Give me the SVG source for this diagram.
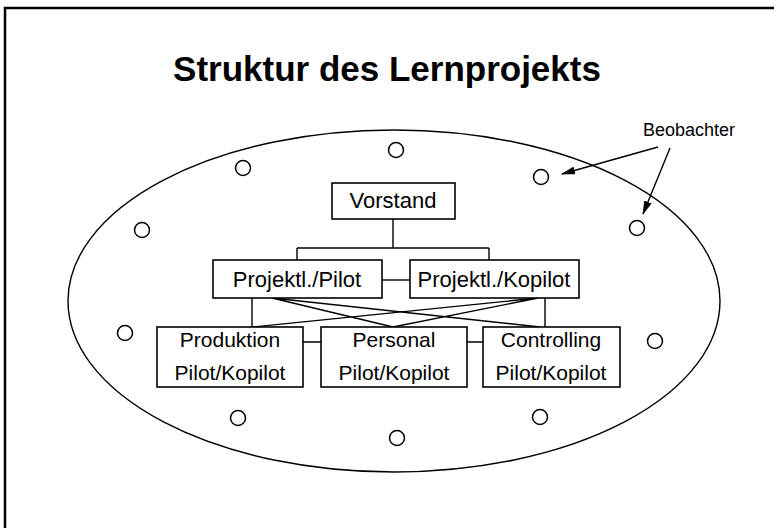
<svg xmlns="http://www.w3.org/2000/svg" width="774" height="528" viewBox="0 0 774 528">
<style>
text{font-family:"Liberation Sans",Arial,sans-serif;fill:#000}
.box{fill:#fff;stroke:#000;stroke-width:1.6}
.lbl{font-size:22px;text-anchor:middle}
.lbl2{font-size:21px;text-anchor:middle}
.c{fill:none;stroke:#000;stroke-width:1.5}
.ln{fill:none;stroke:#000;stroke-width:1.4}
</style>
<defs>
<marker id="ah" viewBox="0 0 14 8" refX="13" refY="4" markerWidth="14" markerHeight="8" markerUnits="userSpaceOnUse" orient="auto"><path d="M0,0L14,4L0,8z" fill="#000"/></marker>
</defs>
<rect width="774" height="528" fill="#fff"/>
<path d="M5,528V8H774" fill="none" stroke="#000" stroke-width="2.5"/>
<text x="387" y="81" font-size="35" font-weight="bold" text-anchor="middle">Struktur des Lernprojekts</text>
<ellipse cx="394" cy="301" rx="326" ry="171" class="ln"/>
<g id="beobachter">
<text x="689" y="136" font-size="18" text-anchor="middle">Beobachter</text>
<circle cx="396" cy="150" r="7.5" class="c"/>
<circle cx="243" cy="168" r="7.5" class="c"/>
<circle cx="541" cy="177" r="7.5" class="c"/>
<circle cx="142" cy="230" r="7.5" class="c"/>
<circle cx="637" cy="228" r="7.5" class="c"/>
<circle cx="125" cy="333" r="7.5" class="c"/>
<circle cx="655" cy="341" r="7.5" class="c"/>
<circle cx="238" cy="418" r="7.5" class="c"/>
<circle cx="540" cy="417" r="7.5" class="c"/>
<circle cx="397" cy="438" r="7.5" class="c"/>
</g>
<g id="connectors" class="ln">
<path d="M658,147L562,174" marker-end="url(#ah)"/>
<path d="M670,148L643,214" marker-end="url(#ah)"/>
<path d="M393,219V248M297,248H489M297,248V260M489,248V260"/>
<path d="M382,280H410"/>
<path d="M252,298V327M545,298V327"/>
<path d="M272,298L393,327M272,298L540,327M538,298L393,327M538,298L253,327"/>
<path d="M303,342H321M467,342H483"/>
</g>
<g id="vorstand"><rect x="332" y="183" width="123" height="36" class="box"/><text x="393" y="208" class="lbl">Vorstand</text></g>
<g id="pilot"><rect x="213" y="260" width="169" height="38" class="box"/><text x="297" y="287" class="lbl">Projektl./Pilot</text></g>
<g id="kopilot"><rect x="410" y="260" width="169" height="38" class="box"/><text x="494" y="287" class="lbl">Projektl./Kopilot</text></g>
<g id="produktion"><rect x="157" y="327" width="146" height="60" class="box"/><text x="230" y="347" class="lbl2">Produktion</text><text x="230" y="380" class="lbl2">Pilot/Kopilot</text></g>
<g id="personal"><rect x="321" y="327" width="146" height="60" class="box"/><text x="394" y="347" class="lbl2">Personal</text><text x="394" y="380" class="lbl2">Pilot/Kopilot</text></g>
<g id="controlling"><rect x="483" y="327" width="137" height="60" class="box"/><text x="551" y="347" class="lbl2">Controlling</text><text x="551" y="380" class="lbl2">Pilot/Kopilot</text></g>
</svg>
